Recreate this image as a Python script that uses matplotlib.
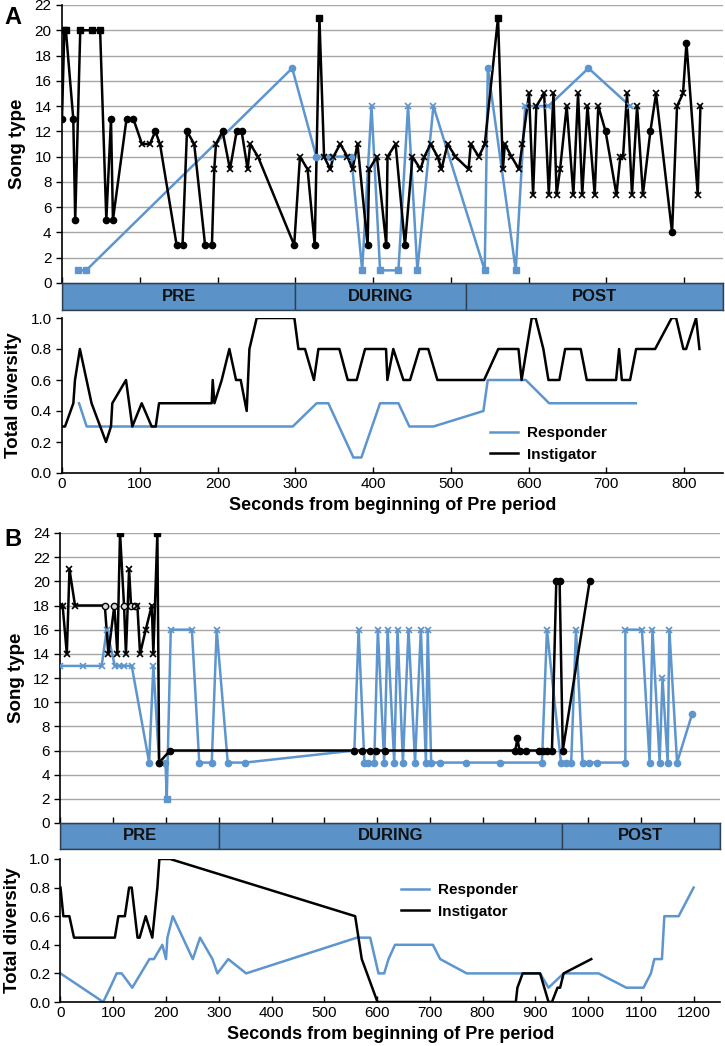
import matplotlib
matplotlib.use("Agg")
import matplotlib.pyplot as plt

plt.rcParams['font.family'] = ['Liberation Sans', 'DejaVu Sans']

BLUE = '#5D95CF'
BAR = '#5B93C9'
BAR_EDGE = '#2F3F52'

# ---------------- Panel A data ----------------
a_inst_t = [0, 3, 5, 14.5, 17, 23.5, 38.6, 49, 57, 63, 65.5, 83, 91.7, 102.8, 113, 120, 126,
            147.4, 155, 160.7, 170, 184, 192.8, 195.8, 198, 206.5, 216, 224.6, 231, 238.7, 242, 252,
            298.6, 306, 315.8, 325, 331, 337, 345, 349, 357.8, 367, 373.6, 380, 393, 395, 405, 417,
            418.6, 429, 441, 450.7, 461, 466, 474, 483, 488, 495.8, 506, 522.8, 525.7, 536, 543.7,
            560.7, 567, 569.4, 578, 587.7, 592, 600.6, 605.8, 610, 620, 626, 632, 636, 640.5, 649,
            657.6, 663.6, 669, 675.7, 685, 689.6, 699,
            713, 718, 721.5, 726.6, 733, 739.5, 747, 756.6, 763.9,
            784.5, 790.9, 798.6, 803, 817.5, 821]
a_inst_y = [13, 20, 20, 13, 5, 20, 20, 20, 5, 13, 5, 13, 13, 11, 11, 12, 11,
            3, 3, 12, 11, 3, 3, 9, 11, 12, 9, 12, 12, 9, 11, 10,
            3, 10, 9, 3, 21, 10, 9, 10, 11, 10, 9, 11, 3, 9, 10, 3,
            10, 11, 3, 10, 9, 10, 11, 10, 9, 11, 10, 9, 11, 10, 11,
            21, 9, 11, 10, 9, 11, 15, 7, 14, 15, 7, 15, 7, 9, 14,
            7, 15, 7, 14, 7, 14, 12,
            7, 10, 10, 15, 7, 14, 7, 12, 15,
            4, 14, 15, 19, 7, 14]
a_inst_m = ("ossoosssoooooxxox" "oooxooxxoxooxxx" "oxxosxxxxxxxoxxo" "xxoxxxxxxxxxxxx"
            "sxxxxxxxxxxxxxxxxxxxxo" "xxxxxxxox" "oxxoxx")

a_resp_t = [21, 31, 296, 327, 345, 372, 386, 398, 409, 432.6, 445, 457, 477.6, 543.6, 547.6,
            583.5, 595.6, 625.5, 677, 730.5]
a_resp_y = [1, 1, 17, 10, 10, 10, 1, 14, 1, 1, 14, 1, 14, 1, 17, 1, 14, 14, 17, 14]
a_resp_m = "ssoooosxssxsxsosxxox"

a_div_inst_t = [0, 3.9, 14.6, 16.7, 23, 38, 56.6, 63, 64.7, 82.3, 90.4, 102.5, 115.3, 120.5, 124.8,
                192.5, 193.8, 196, 205.4, 215.2, 223.8, 229.8, 237.5, 241, 250.4, 298.8, 304, 312.5,
                324, 329.7, 356.7, 367.4, 379, 389.7, 416.7, 418.4, 426, 439, 447.6, 459.6, 471,
                482.7, 542.8, 561, 587, 591, 604, 609, 619, 625.5, 639.6, 647, 667, 674.8, 712.5,
                716.4, 719.9, 730.5, 738.3, 762.7, 784, 789.7, 799, 802.6, 815.4, 819.7]
a_div_inst = [0.3, 0.3, 0.45, 0.6, 0.8, 0.45, 0.2, 0.3, 0.45, 0.6, 0.3, 0.45, 0.3, 0.3, 0.45,
              0.45, 0.6, 0.45, 0.6, 0.8, 0.6, 0.6, 0.4, 0.8, 1.0, 1.0, 0.8, 0.8,
              0.6, 0.8, 0.8, 0.6, 0.6, 0.8, 0.8, 0.6, 0.8, 0.6, 0.6, 0.8, 0.8,
              0.6, 0.6, 0.8, 0.8, 0.6, 1.0, 1.0, 0.8, 0.6, 0.6, 0.8, 0.8, 0.6, 0.6,
              0.8, 0.6, 0.6, 0.8, 0.8, 1.0, 1.0, 0.8, 0.8, 1.0, 0.8]
a_div_resp_t = [21.9, 31.7, 296.7, 327.5, 342.5, 374.7, 385, 409, 432.6, 446.7, 477.6, 541.9,
                547.5, 596.4, 626.4, 737.9]
a_div_resp = [0.45, 0.3, 0.3, 0.45, 0.45, 0.1, 0.1, 0.45, 0.45, 0.3, 0.3, 0.4, 0.6, 0.6, 0.45, 0.45]

a_periods = ['PRE', 'DURING', 'POST']
a_bounds = [0, 300, 520, 850]

# ---------------- Panel B data ----------------
b_inst_t = [0, 4, 12, 17, 27.5, 84, 90.7, 102, 107.8, 112.8, 120.4, 124, 130, 133.7, 141, 145.7,
            150.8, 161.6, 173, 176, 183.6, 187, 207.7, 557, 572, 586, 598, 615, 862, 866, 870,
            882.8, 906, 914.5, 923, 931.5, 939.7, 946, 952, 1003]
b_inst_y = [18, 18, 14, 21, 18, 18, 14, 18, 14, 24, 18, 14, 21, 18, 18, 18,
            14, 16, 18, 14, 24, 5, 6, 6, 6, 6, 6, 6, 6, 7, 6,
            6, 6, 6, 6, 6, 20, 20, 6, 20]
b_inst_m = "xxxxxcxcxscxxccxxxxxs" "ooooooooooooooooooo"

b_resp_t = [0, 43, 78, 87.6, 103, 111, 120, 135,
            168, 176, 187, 199, 201.4, 209, 249, 263, 286.7, 296, 317, 350, 557, 565,
            576, 582.6, 594.6, 601.5, 613.5, 620, 632.5, 638.8, 649, 659.6, 672, 683, 692.6, 696,
            702.6, 718.4, 769, 833.5, 912.5, 922, 948.6, 958.6, 968, 977,
            989.6, 1002, 1017, 1070.6, 1070.6, 1102, 1116.6, 1122, 1135.6, 1141, 1150.8,
            1154, 1168.6, 1197]
b_resp_y = [13, 13, 13, 16, 13, 13, 13, 13,
            5, 13, 5, 5, 2, 16, 16, 5, 5, 16, 5, 5, 6, 16,
            5, 5, 5, 16, 5, 16, 5, 16, 5, 16, 5, 16, 5, 16,
            5, 5, 5, 5, 5, 16, 5, 5, 5, 16,
            5, 5, 5, 5, 16, 16, 5, 16, 5, 12, 5,
            16, 5, 9]
b_resp_m = ("xxxxxxxx" "oxoosxxooxooox" "oooxoxoxoxoxox"
            "oooooxooox" "ooooxxoxoxo" "xoo")

b_div_inst_t = [0, 5.4, 16.8, 25.6, 103, 109.7, 122, 130, 135, 146, 150, 161.5, 174, 183.6, 187.4,
                207.7, 558.5, 571, 600.8, 863, 866, 876, 909, 925, 931.5, 942, 947, 953.6, 1006]
b_div_inst = [0.8, 0.6, 0.6, 0.45, 0.45, 0.6, 0.6, 0.8, 0.8, 0.45, 0.45, 0.6, 0.45, 0.8, 1.0,
              1.0, 0.6, 0.3, 0.0, 0.0, 0.1, 0.2, 0.2, 0.0, 0.0, 0.1, 0.1, 0.2, 0.3]
b_div_resp_t = [0, 81, 94, 106.5, 116, 136, 168.5, 177, 193, 200, 202.6, 212.8, 250.7, 264.5, 288,
                297.4, 318, 351.8, 561.7, 587, 602.7, 613.5, 621.7, 634, 705.8, 719.7, 770, 909,
                925, 953.6, 1020, 1072.5, 1105, 1119, 1125.6, 1140, 1144.5, 1171.6, 1200]
b_div_resp = [0.2, 0.0, 0.1, 0.2, 0.2, 0.1, 0.3, 0.3, 0.4, 0.3, 0.45, 0.6, 0.3, 0.45, 0.3,
              0.2, 0.3, 0.2, 0.45, 0.45, 0.2, 0.2, 0.3, 0.4, 0.4, 0.3, 0.2, 0.2,
              0.1, 0.2, 0.2, 0.1, 0.1, 0.2, 0.3, 0.3, 0.6, 0.6, 0.8]

b_periods = ['PRE', 'DURING', 'POST']
b_bounds = [0, 300, 950, 1250]

W, H = 725, 1046
fig = plt.figure(figsize=(W / 100, H / 100), dpi=100)


def px_axes(l, t, r, b):
    return fig.add_axes([l / W, 1 - b / H, (r - l) / W, (b - t) / H])


def song_series(ax, t, y, marks, color):
    ax.plot(t, y, color=color, lw=1.8, zorder=3)
    styles = {'o': dict(marker='o', ms=4.5, mfc=color, mec=color),
              'c': dict(marker='o', ms=4.5, mfc='#d8d8d8', mec=color, mew=1.0),
              's': dict(marker='s', ms=4.5, mfc=color, mec=color),
              'x': dict(marker='x', ms=5, mec=color, mew=1.2)}
    for code, st in styles.items():
        xs = [a for a, m in zip(t, marks) if m == code]
        ys = [b for b, m in zip(y, marks) if m == code]
        if xs:
            ax.plot(xs, ys, ls='none', zorder=4, **st)


def style_song(ax, xmax, ymax):
    ax.set_xlim(0, xmax)
    ax.set_ylim(0, ymax)
    ax.set_yticks(range(0, ymax + 1, 2))
    ax.set_xticks(range(0, xmax + 1, 100))
    ax.tick_params(axis='x', direction='in', length=4, labelbottom=False, width=1)
    ax.tick_params(axis='y', direction='out', length=4, labelsize=11, width=1)
    ax.grid(axis='y', color='#a6a6a6', lw=1)
    ax.set_axisbelow(True)
    for s in ['top', 'right']:
        ax.spines[s].set_visible(False)
    ax.spines['left'].set_linewidth(1.2)
    ax.spines['bottom'].set_visible(False)
    ax.set_ylabel('Song type', fontsize=13.5, fontweight='bold', labelpad=6)


def style_bar(ax, xmax, bounds, names):
    ax.set_xlim(0, xmax)
    ax.set_ylim(0, 1)
    for i, name in enumerate(names):
        ax.axvspan(bounds[i], bounds[i + 1], color=BAR, ec=BAR_EDGE, lw=1)
        ax.text((bounds[i] + bounds[i + 1]) / 2, 0.5, name, ha='center', va='center',
                fontsize=12, fontweight='bold', color='#111111')
    ax.set_xticks([])
    ax.set_yticks([])
    for s in ax.spines.values():
        s.set_color(BAR_EDGE)
        s.set_linewidth(1)


def style_div(ax, xmax):
    ax.set_xlim(0, xmax)
    ax.set_ylim(0, 1.0)
    ax.set_yticks([0, 0.2, 0.4, 0.6, 0.8, 1.0])
    ax.set_yticklabels(['0.0', '0.2', '0.4', '0.6', '0.8', '1.0'])
    ax.set_xticks(range(0, xmax + 1, 100))
    ax.tick_params(axis='x', direction='in', length=4, labelsize=11, pad=3, width=1)
    ax.tick_params(axis='y', direction='out', length=4, labelsize=11, width=1)
    for s in ['top', 'right']:
        ax.spines[s].set_visible(False)
    ax.spines['left'].set_linewidth(1.2)
    ax.spines['bottom'].set_linewidth(1.2)
    ax.set_ylabel('Total diversity', fontsize=13.5, fontweight='bold', labelpad=6)
    ax.set_xlabel('Seconds from beginning of Pre period', fontsize=13, fontweight='bold',
                  labelpad=4)


# ---------------- Panel A ----------------
axA = px_axes(62, 5, 723, 283)
style_song(axA, 850, 22)
song_series(axA, a_resp_t, a_resp_y, a_resp_m, BLUE)
song_series(axA, a_inst_t, a_inst_y, a_inst_m, 'black')
fig.text(4 / W, 1 - 17 / H, 'A', fontsize=17, fontweight='bold', va='center')

barA = px_axes(62, 283, 723, 310)
style_bar(barA, 850, a_bounds, a_periods)

divA = px_axes(62, 318, 723, 473)
style_div(divA, 850)
divA.plot(a_div_resp_t, a_div_resp, color=BLUE, lw=1.8, label='Responder')
divA.plot(a_div_inst_t, a_div_inst, color='black', lw=1.8, label='Instigator')
divA.legend(loc='upper left', bbox_to_anchor=((484 - 62) / 661, (473 - 420) / 155),
            frameon=False, prop={'weight': 'bold', 'size': 11}, handlelength=1.8,
            handletextpad=0.6, labelspacing=0.5, borderaxespad=0)

# ---------------- Panel B ----------------
axB = px_axes(60.5, 533, 720, 823)
style_song(axB, 1250, 24)
song_series(axB, b_resp_t, b_resp_y, b_resp_m, BLUE)
song_series(axB, b_inst_t, b_inst_y, b_inst_m, 'black')
fig.text(4 / W, 1 - 540 / H, 'B', fontsize=17, fontweight='bold', va='center')

barB = px_axes(60.5, 823, 720, 849)
style_bar(barB, 1250, b_bounds, b_periods)

divB = px_axes(60.5, 859, 720, 1002)
style_div(divB, 1250)
divB.plot(b_div_resp_t, b_div_resp, color=BLUE, lw=1.8, label='Responder')
divB.plot(b_div_inst_t, b_div_inst, color='black', lw=1.8, label='Instigator')
divB.legend(loc='upper left', bbox_to_anchor=((395 - 60.5) / 659.5, (1002 - 877) / 143),
            frameon=False, prop={'weight': 'bold', 'size': 11}, handlelength=1.8,
            handletextpad=0.6, labelspacing=0.5, borderaxespad=0)

fig.savefig('out.png', dpi=100)
